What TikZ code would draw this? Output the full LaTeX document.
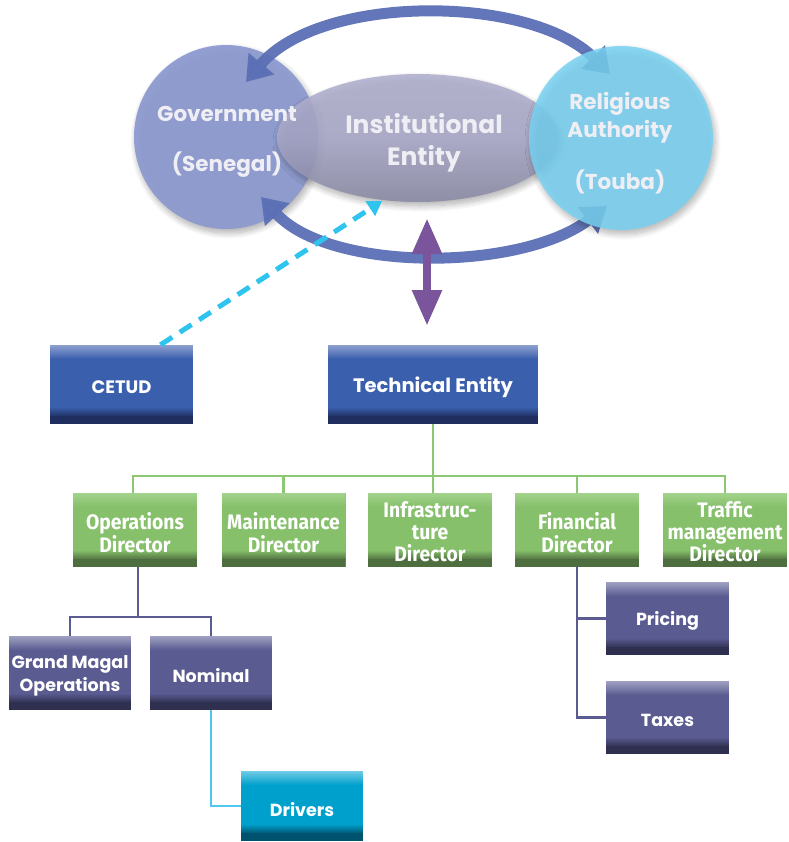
\documentclass[tikz,border=0pt]{standalone}
\usepackage{fontspec}
\setmainfont{Poppins}
\newfontfamily\condfont[FakeStretch=0.92]{Fira Sans}
\usetikzlibrary{arrows.meta,shapes.geometric,shadows.blur}
\definecolor{govc}{HTML}{8C99D0}
\definecolor{instc}{HTML}{AAAACA}
\definecolor{instt}{HTML}{B0B0CE}
\definecolor{instd}{HTML}{8A8AA4}
\definecolor{relc}{HTML}{78D2F2}
\definecolor{arrc}{HTML}{5A6FB5}
\definecolor{purp}{HTML}{7B559B}
\definecolor{dashc}{HTML}{2EC4EE}
\definecolor{bmain}{HTML}{3A5FAD}
\definecolor{btop}{HTML}{8EA0D0}
\definecolor{bbot}{HTML}{1F2E5E}
\definecolor{gmain}{HTML}{86C06B}
\definecolor{gtop}{HTML}{A3D38C}
\definecolor{gbot}{HTML}{4F6E3F}
\definecolor{pmain}{HTML}{5A5B90}
\definecolor{ptop}{HTML}{A0A1C2}
\definecolor{pbot}{HTML}{2F3050}
\definecolor{cmain}{HTML}{00A0CC}
\definecolor{ctop}{HTML}{70CCE6}
\definecolor{cbot}{HTML}{00536E}
\definecolor{gline}{HTML}{8CC874}
\definecolor{pline}{HTML}{5A5B90}
\definecolor{cline}{HTML}{4FC8F0}
\definecolor{ctext}{HTML}{EEEEF4}
\tikzset{
  panel/.style n args={3}{draw=none, fill=#1, inner sep=0pt,
    path picture={
      \foreach \i in {0,...,14}{
        \pgfmathtruncatemacro\pp{100-\i*100/14}
        \fill[#2!\pp!#1] ([yshift=-\i pt]path picture bounding box.north west) rectangle ([yshift=-\i pt-1.3pt]path picture bounding box.north east);
      }
      \foreach \i in {0,...,9}{
        \pgfmathtruncatemacro\pp{\i*10}
        \fill[#3!\pp!#1] ([yshift=17pt-\i pt]path picture bounding box.south west) rectangle ([yshift=15.7pt-\i pt]path picture bounding box.south east);
      }
      \fill[#3] ([yshift=8pt]path picture bounding box.south west) rectangle (path picture bounding box.south east);
    }},
  wtext/.style={text=white, align=center, inner sep=0pt},
  bluebox/.style={panel={bmain}{btop}{bbot}, minimum height=79,
    label={[wtext, yshift=-3pt, font=\bfseries\fontsize{19.5}{23}\selectfont]center:#1}},
  greenbox/.style={panel={gmain}{gtop}{gbot}, minimum width=124, minimum height=74,
    label={[wtext, yshift=-2.5pt, font=\condfont\bfseries\fontsize{21}{23}\selectfont]center:#1}},
  greenboxt/.style={panel={gmain}{gtop}{gbot}, minimum width=124, minimum height=74,
    label={[wtext, yshift=-2pt, font=\condfont\bfseries\fontsize{21}{22}\selectfont]center:#1}},
  purplebox/.style={panel={pmain}{ptop}{pbot}, minimum width=122, minimum height=74,
    label={[wtext, yshift=-2.5pt, font=\bfseries\fontsize{17.5}{23}\selectfont]center:#1}},
  cyanbox/.style={panel={cmain}{ctop}{cbot}, minimum width=122, minimum height=70,
    label={[wtext, yshift=-3.5pt, font=\bfseries\fontsize{17.5}{23}\selectfont]center:#1}},
  circtext/.style={text=ctext, align=center, font=\bfseries\fontsize{21.5}{28}\selectfont},
  bigarrow/.style={arrc, line width=11pt, {Triangle[width=32pt,length=24pt]}-{Triangle[width=32pt,length=24pt]}},
  gconn/.style={gline, line width=2.2pt},
  pconn/.style={pline, line width=2.2pt},
  cconn/.style={cline, line width=2.2pt},
  soft/.style={blur shadow={shadow xshift=2pt, shadow yshift=-4pt, shadow blur steps=12, shadow opacity=35, shadow blur radius=6pt}},
}
\begin{document}
\begin{tikzpicture}[x=1pt,y=-1pt]
\useasboundingbox (0,0) rectangle (788,842);

% upper shapes
\node[circle, minimum size=184, inner sep=0pt, fill=govc, fill opacity=0.92, soft] (gov) at (226,137) {};
\node[ellipse, minimum width=282, minimum height=128, inner sep=0pt, top color=instt, bottom color=instd, middle color=instc, fill opacity=0.88, soft] (inst) at (418,138) {};

\coordinate (tl) at (246,82);
\coordinate (tr) at (610,74);
\coordinate (bl) at (261,197);
\coordinate (br) at (607,206);
\draw[bigarrow, opacity=0.95] (tl) .. controls (320,-6) and (530,-6) .. (tr);
\draw[bigarrow, opacity=0.95] (bl) .. controls (330,272) and (520,272) .. (br);

\node[circle, minimum size=184, inner sep=0pt, fill=relc, fill opacity=0.85, soft] (rel) at (621,138) {};

\node[circtext] (govt1) at (227,114) {Government};
\node[circtext] (govt2) at (227,165) {(Senegal)};
\node[circtext, font=\bfseries\fontsize{25}{32}\selectfont] (instt) at (424,143) {Institutional\\Entity};
\node[circtext] (relt1) at (620,118) {Religious\\Authority};
\node[circtext] (relt2) at (620,182) {(Touba)};

% boxes
\node[panel={bmain}{btop}{bbot}, minimum width=143, minimum height=79,
  label={[wtext, yshift=-3pt, font=\bfseries\fontsize{18}{20}\selectfont]center:CETUD}] (cetud) at (121.5,384.5) {};
\node[bluebox={Technical Entity}, minimum width=210] (tech) at (433,384.5) {};

\coordinate (purtop) at (427,218);
\coordinate (purbot) at (427,326);
\draw[purp, line width=8.5pt, {Triangle[width=28pt,length=36pt]}-{Triangle[width=28pt,length=36pt]}] (purtop) -- (purbot);

\coordinate (dashend) at (382,201);
\draw[dashc, line width=5pt, dash pattern=on 14pt off 9pt, -{Triangle[width=17pt,length=14pt]}] ([xshift=39pt]cetud.north) -- (dashend);

\node[greenbox={Operations\\Director}] (ops) at (135,530) {};
\node[greenbox={Maintenance\\Director}] (maint) at (283.5,530) {};
\node[greenboxt={Infrastruc-\\ture\\Director}] (infra) at (430,530) {};
\node[greenbox={Financial\\Director}] (fin) at (577,530) {};
\node[greenboxt={Traffic\\management\\Director}] (traffic) at (725,530) {};

\node[purplebox={Grand Magal\\Operations}] (grand) at (70,673) {};
\node[purplebox={Nominal}] (nominal) at (211,673) {};
\node[cyanbox={Drivers}] (drivers) at (302,806) {};
\node[purplebox={Pricing}, minimum width=123, minimum height=73] (pricing) at (667.5,618.5) {};
\node[purplebox={Taxes}, minimum width=123, minimum height=73] (taxes) at (667.5,717.5) {};

% connectors
\draw[gconn] (tech.south) -- (tech.south |- infra.north);
\draw[gconn] ([xshift=-2pt]ops.north) -- ++(0,-17) -| (traffic.north);
\draw[gconn] (maint.north) -- ++(0,-17);
\draw[gconn] (fin.north) -- ++(0,-17);

\draw[pconn] ([xshift=3pt]ops.south) -- ++(0,50);
\draw[pconn] (grand.north) -- ++(0,-19) -| (nominal.north);
\draw[cconn] (nominal.south) |- (drivers.west);
\draw[pconn] (fin.south) |- (pricing.west);
\draw[pconn] (fin.south) |- (taxes.west);
\end{tikzpicture}
\end{document}
